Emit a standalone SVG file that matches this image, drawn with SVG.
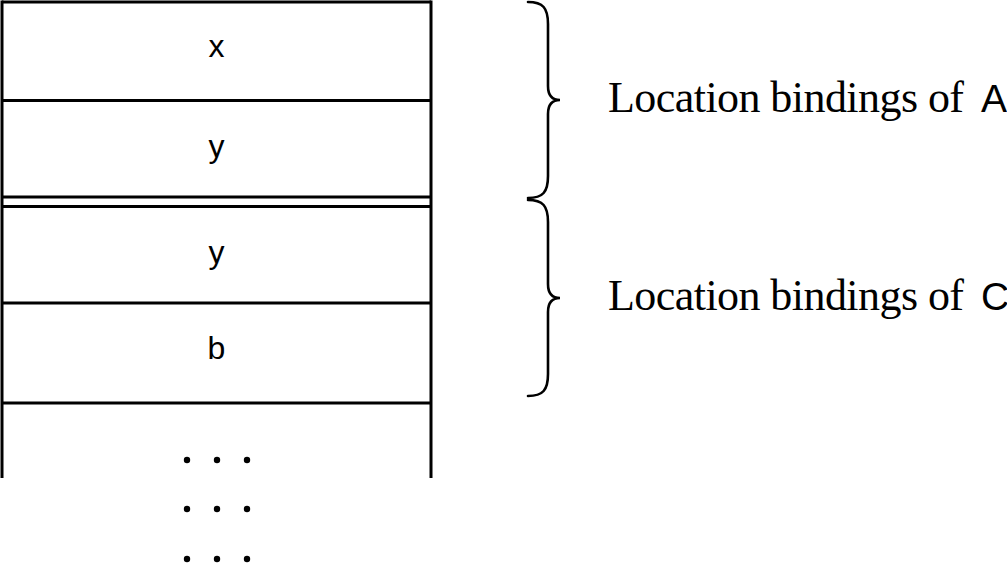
<svg xmlns="http://www.w3.org/2000/svg" width="1007" height="563" viewBox="0 0 1007 563">
<style>
.ln{stroke:#000;stroke-width:3;fill:none}
.br{stroke:#000;stroke-width:2.6;fill:none;stroke-linecap:round}
.cell{font-family:"Liberation Sans",Arial,sans-serif;font-size:32px;text-anchor:middle;fill:#000}
.lbl{font-family:"Liberation Serif","Times New Roman",serif;font-size:44px;fill:#000}
.sans{font-family:"Liberation Sans",Arial,sans-serif;font-size:39px;fill:#000}
</style>
<rect width="1007" height="563" fill="#fff"/>
<g id="frame">
<line class="ln" x1="2" y1="0.5" x2="2" y2="478"/>
<line class="ln" x1="431" y1="0.5" x2="431" y2="478"/>
<line class="ln" x1="2" y1="2" x2="431" y2="2"/>
<line class="ln" x1="2" y1="197" x2="431" y2="197"/>
<line class="ln" x1="2" y1="206.5" x2="431" y2="206.5"/>
<line class="ln" x1="2" y1="403" x2="431" y2="403"/>
</g>
<g id="cell-x"><text class="cell" x="216.5" y="57">x</text></g>
<g id="cell-y1"><line class="ln" x1="2" y1="100.5" x2="431" y2="100.5"/><text class="cell" x="216.5" y="157">y</text></g>
<g id="cell-y2"><text class="cell" x="216.5" y="263">y</text></g>
<g id="cell-b"><line class="ln" x1="2" y1="303" x2="431" y2="303"/><text class="cell" x="216.5" y="359">b</text></g>
<g id="dots" fill="#000">
<circle cx="187" cy="460" r="3.2"/><circle cx="217" cy="460" r="3.2"/><circle cx="247" cy="460" r="3.2"/>
<circle cx="187" cy="509" r="3.2"/><circle cx="217" cy="509" r="3.2"/><circle cx="247" cy="509" r="3.2"/>
<circle cx="187" cy="559" r="3.2"/><circle cx="217" cy="559" r="3.2"/><circle cx="247" cy="559" r="3.2"/>
</g>
<g id="brace-A">
<path class="br" d="M528,2 C543,2 548,8 548,24 L548,86 C548,95 552,100 560,100 C552,100 548,105 548,114 L548,176 C548,192 543,198 528,198"/>
<text class="lbl" x="608" y="112" textLength="356" lengthAdjust="spacing">Location bindings of</text>
<text class="sans" x="981" y="112">A</text>
</g>
<g id="brace-C">
<path class="br" d="M528,200 C543,200 548,206 548,222 L548,284 C548,293 552,298 560,298 C552,298 548,303 548,312 L548,374 C548,390 543,396 528,396"/>
<text class="lbl" x="608" y="310" textLength="356" lengthAdjust="spacing">Location bindings of</text>
<text class="sans" x="981" y="310">C</text>
</g>
</svg>
